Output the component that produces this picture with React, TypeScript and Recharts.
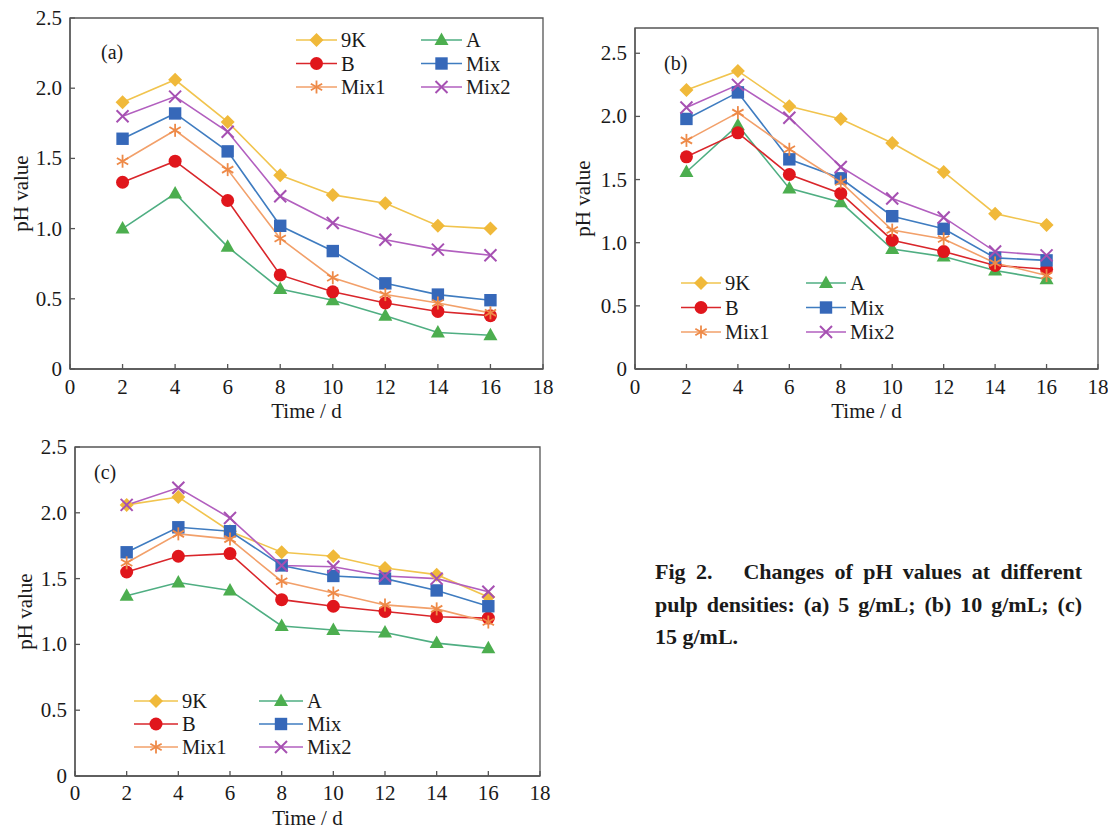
import React from "react";
import { Legend, Line, LineChart, ReferenceArea, XAxis, YAxis } from "recharts";

// sampling days and axis ticks
const days = [2, 4, 6, 8, 10, 12, 14, 16];
const xTicks = [0, 2, 4, 6, 8, 10, 12, 14, 16, 18];
const yTicks = [0, 0.5, 1.0, 1.5, 2.0, 2.5];
const seriesNames = ["9K", "A", "B", "Mix", "Mix1", "Mix2"];

// (a) 5 g/mL
const a9K = [1.9, 2.06, 1.76, 1.38, 1.24, 1.18, 1.02, 1.0];
const aA = [1.0, 1.25, 0.87, 0.57, 0.49, 0.38, 0.26, 0.24];
const aB = [1.33, 1.48, 1.2, 0.67, 0.55, 0.47, 0.41, 0.38];
const aMix = [1.64, 1.82, 1.55, 1.02, 0.84, 0.61, 0.53, 0.49];
const aMix1 = [1.48, 1.7, 1.42, 0.93, 0.65, 0.53, 0.47, 0.4];
const aMix2 = [1.8, 1.94, 1.69, 1.23, 1.04, 0.92, 0.85, 0.81];

// (b) 10 g/mL
const b9K = [2.21, 2.36, 2.08, 1.98, 1.79, 1.56, 1.23, 1.14];
const bA = [1.56, 1.93, 1.43, 1.32, 0.95, 0.89, 0.78, 0.71];
const bB = [1.68, 1.87, 1.54, 1.39, 1.02, 0.93, 0.82, 0.79];
const bMix = [1.98, 2.19, 1.66, 1.51, 1.21, 1.11, 0.88, 0.86];
const bMix1 = [1.81, 2.03, 1.74, 1.48, 1.1, 1.03, 0.84, 0.74];
const bMix2 = [2.07, 2.25, 1.99, 1.6, 1.35, 1.2, 0.93, 0.9];

// (c) 15 g/mL
const c9K = [2.06, 2.12, 1.86, 1.7, 1.67, 1.58, 1.53, 1.36];
const cA = [1.37, 1.47, 1.41, 1.14, 1.11, 1.09, 1.01, 0.97];
const cB = [1.55, 1.67, 1.69, 1.34, 1.29, 1.25, 1.21, 1.2];
const cMix = [1.7, 1.89, 1.86, 1.6, 1.52, 1.5, 1.41, 1.29];
const cMix1 = [1.62, 1.84, 1.8, 1.48, 1.39, 1.3, 1.27, 1.17];
const cMix2 = [2.06, 2.19, 1.96, 1.6, 1.59, 1.52, 1.5, 1.4];

const FONT = '"Liberation Serif", "Times New Roman", serif';
const AXIS = "#555";
const INK = "#1a1a1a";

const style: Record<string, { line: string; fill: string; shape: string }> = {
  "9K": { line: "#f1c44e", fill: "#f0b93a", shape: "diamond" },
  A: { line: "#4fae82", fill: "#4cae4f", shape: "triangle" },
  B: { line: "#d9262b", fill: "#e0161c", shape: "circle" },
  Mix: { line: "#3f7cc0", fill: "#3668b9", shape: "square" },
  Mix1: { line: "#f2a06a", fill: "#ee8a48", shape: "star" },
  Mix2: { line: "#b25fbf", fill: "#a650b2", shape: "cross" },
};

function buildRows(vals: number[][]) {
  return days.map((d, i) => {
    const row: Record<string, number> = { day: d };
    seriesNames.forEach((n, k) => (row[n] = vals[k][i]));
    return row;
  });
}

const rowsA = buildRows([a9K, aA, aB, aMix, aMix1, aMix2]);
const rowsB = buildRows([b9K, bA, bB, bMix, bMix1, bMix2]);
const rowsC = buildRows([c9K, cA, cB, cMix, cMix1, cMix2]);

function Marker({ shape, cx, cy, color }: { shape: string; cx: number; cy: number; color: string }) {
  switch (shape) {
    case "diamond":
      return <polygon points={`${cx},${cy - 7} ${cx + 7},${cy} ${cx},${cy + 7} ${cx - 7},${cy}`} fill={color} />;
    case "triangle":
      return <polygon points={`${cx},${cy - 7.5} ${cx + 7},${cy + 5} ${cx - 7},${cy + 5}`} fill={color} />;
    case "circle":
      return <circle cx={cx} cy={cy} r={6.5} fill={color} />;
    case "square":
      return <rect x={cx - 6.2} y={cy - 6.2} width={12.4} height={12.4} fill={color} />;
    case "star": {
      const r = 6.5;
      return (
        <g stroke={color} strokeWidth={1.8}>
          <line x1={cx} y1={cy - r} x2={cx} y2={cy + r} />
          <line x1={cx - r * 0.87} y1={cy - r * 0.5} x2={cx + r * 0.87} y2={cy + r * 0.5} />
          <line x1={cx - r * 0.87} y1={cy + r * 0.5} x2={cx + r * 0.87} y2={cy - r * 0.5} />
        </g>
      );
    }
    default: {
      const r = 6;
      return (
        <g stroke={color} strokeWidth={2}>
          <line x1={cx - r} y1={cy - r} x2={cx + r} y2={cy + r} />
          <line x1={cx - r} y1={cy + r} x2={cx + r} y2={cy - r} />
        </g>
      );
    }
  }
}

const fmt = (v: number) => (v === 0 ? "0" : v.toFixed(1));

const makeXTick = (dy: number) => (props: any) => {
  const { x, y, payload } = props;
  return (
    <g>
      <line x1={x} x2={x} y1={y} y2={y - 5} stroke={AXIS} strokeWidth={1.3} />
      <text x={x} y={y + dy} textAnchor="middle" fontSize={21} fill={INK}>
        {payload.value}
      </text>
    </g>
  );
};

const YTick = (props: any) => {
  const { x, y, payload } = props;
  return (
    <g>
      <line x1={x} x2={x + 5} y1={y} y2={y} stroke={AXIS} strokeWidth={1.3} />
      <text x={x - 8} y={y + 7} textAnchor="end" fontSize={21} fill={INK}>
        {fmt(payload.value)}
      </text>
    </g>
  );
};

function LegendBox({ rowGap, lineLen }: { rowGap: number; lineLen: number }) {
  const order = [
    ["9K", "A"],
    ["B", "Mix"],
    ["Mix1", "Mix2"],
  ];
  return (
    <svg width={270} height={90} style={{ display: "block", overflow: "visible" }}>
      {order.map((pair, r) =>
        pair.map((name, c) => {
          const x0 = c * 125;
          const y0 = 12 + r * rowGap;
          const st = style[name];
          return (
            <g key={name}>
              <line x1={x0} x2={x0 + lineLen} y1={y0} y2={y0} stroke={st.line} strokeWidth={1.6} />
              <Marker shape={st.shape} cx={x0 + lineLen / 2} cy={y0} color={st.fill} />
              <text x={x0 + lineLen + 4} y={y0 + 7} fontSize={20.5} fill={INK}>
                {name}
              </text>
            </g>
          );
        })
      )}
    </svg>
  );
}

interface PanelProps {
  rows: Record<string, number>[];
  left: number;
  top: number;
  width: number;
  height: number;
  margin: { top: number; right: number; bottom: number; left: number };
  yAxisWidth: number;
  yMax: number;
  yLabelOffset: number;
  xTickDy: number;
  tag: string;
  tagX: number;
  tagY: number;
  legendX: number;
  legendY: number;
  legendRowGap: number;
  legendLine: number;
}

function Panel(p: PanelProps) {
  return (
    <div style={{ position: "absolute", left: p.left, top: p.top, width: p.width, height: p.height }}>
      <LineChart width={p.width} height={p.height} data={p.rows} margin={p.margin} style={{ overflow: "visible" }}>
        <ReferenceArea x1={0} x2={18} y1={0} y2={p.yMax} fill="none" stroke={AXIS} strokeWidth={1.3} ifOverflow="visible" />
        <XAxis
          type="number"
          dataKey="day"
          domain={[0, 18]}
          ticks={xTicks}
          interval={0}
          height={50}
          tickSize={0}
          tickMargin={0}
          tickLine={false}
          stroke={AXIS}
          strokeWidth={1.3}
          tick={makeXTick(p.xTickDy)}
          label={{ value: "Time / d", position: "insideBottom", offset: 1, fontSize: 21, fill: INK }}
        />
        <YAxis
          type="number"
          domain={[0, p.yMax]}
          ticks={yTicks}
          interval={0}
          width={p.yAxisWidth}
          tickSize={0}
          tickMargin={0}
          tickLine={false}
          stroke={AXIS}
          strokeWidth={1.3}
          tick={YTick}
          label={{
            value: "pH value",
            angle: -90,
            position: "insideLeft",
            offset: p.yLabelOffset,
            fontSize: 21,
            fill: INK,
            style: { textAnchor: "middle" },
          }}
        />
        <Legend
          layout="horizontal"
          verticalAlign="middle"
          align="center"
          wrapperStyle={{ left: p.legendX, top: p.legendY - 12, width: 270, height: 90 }}
          content={() => <LegendBox rowGap={p.legendRowGap} lineLen={p.legendLine} />}
        />
        {seriesNames.map((name) => (
          <Line
            key={name}
            dataKey={name}
            type="linear"
            stroke={style[name].line}
            strokeWidth={1.6}
            isAnimationActive={false}
            dot={(d: any) => (
              <Marker key={`${name}-${d.index}`} shape={style[name].shape} cx={d.cx} cy={d.cy} color={style[name].fill} />
            )}
            activeDot={false}
          />
        ))}
      </LineChart>
      <div
        style={{
          position: "absolute",
          left: p.tagX,
          top: p.tagY,
          fontSize: 20,
          color: INK,
          lineHeight: "20px",
        }}
      >
        {p.tag}
      </div>
    </div>
  );
}

export default function App() {
  return (
    <div
      style={{
        position: "absolute",
        left: 0,
        top: 0,
        width: 1108,
        height: 829,
        background: "#fff",
        fontFamily: FONT,
        overflow: "hidden",
      }}
    >
      <Panel
        rows={rowsA}
        left={0}
        top={0}
        width={560}
        height={430}
        margin={{ top: 18, right: 17, bottom: 11, left: 0 }}
        yAxisWidth={70}
        yMax={2.5}
        yLabelOffset={21}
        xTickDy={25}
        tag="(a)"
        tagX={101}
        tagY={42}
        legendX={296}
        legendY={40}
        legendRowGap={23.5}
        legendLine={41}
      />
      <Panel
        rows={rowsB}
        left={565}
        top={0}
        width={543}
        height={430}
        margin={{ top: 28, right: 10, bottom: 11, left: 0 }}
        yAxisWidth={70}
        yMax={2.7}
        yLabelOffset={18}
        xTickDy={25}
        tag="(b)"
        tagX={99}
        tagY={53}
        legendX={116}
        legendY={283}
        legendRowGap={24.5}
        legendLine={40}
      />
      <Panel
        rows={rowsC}
        left={0}
        top={420}
        width={560}
        height={409}
        margin={{ top: 27, right: 20, bottom: 3, left: 0 }}
        yAxisWidth={75}
        yMax={2.5}
        yLabelOffset={25}
        xTickDy={24}
        tag="(c)"
        tagX={94}
        tagY={42}
        legendX={134}
        legendY={281}
        legendRowGap={23}
        legendLine={44}
      />
      <div
        style={{
          position: "absolute",
          left: 655,
          top: 556,
          width: 427,
          fontSize: 22,
          fontWeight: "bold",
          lineHeight: "32.5px",
          color: INK,
        }}
      >
        <div style={{ textAlign: "justify", textAlignLast: "justify" }}>
          Fig 2.&nbsp;&nbsp; Changes of pH values at different
        </div>
        <div style={{ textAlign: "justify", textAlignLast: "justify" }}>
          pulp densities: (a) 5 g/mL; (b) 10 g/mL; (c)
        </div>
        <div>15 g/mL.</div>
      </div>
    </div>
  );
}
